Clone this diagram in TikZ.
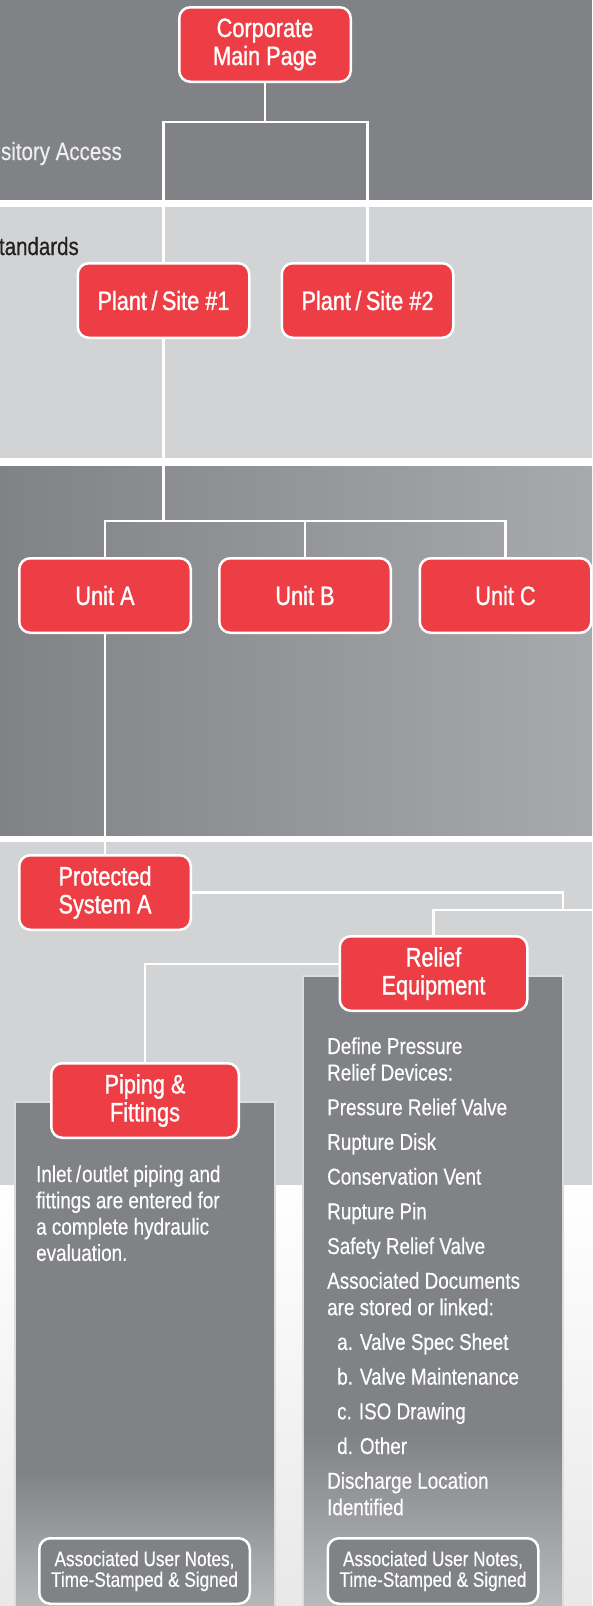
\documentclass[tikz,border=0pt]{standalone}
\usepackage{fontspec}
\setmainfont{Liberation Sans}[FakeStretch=0.82, FakeBold=0.4]
\newfontfamily\titlefam{Liberation Sans}[FakeStretch=0.82, FakeBold=1.1]
\usetikzlibrary{positioning}

\definecolor{boxred}{HTML}{EE3E45}
\definecolor{bandDark}{HTML}{808285}
\definecolor{bandLight}{HTML}{D1D3D4}
\definecolor{bandRight}{HTML}{A7A9AC}
\definecolor{fadeLow}{HTML}{C0C1C3}
\definecolor{floorLow}{HTML}{E8E8E9}
\definecolor{panelEdge}{HTML}{DCDDDE}
\definecolor{inkDark}{HTML}{231F20}
\definecolor{labelLight}{HTML}{EEEEEF}

\newcommand{\titlefont}{\titlefam\fontsize{26.5}{28}\selectfont}
\newcommand{\itemfont}{\fontsize{23}{26.5}\selectfont}
\newcommand{\notefont}{\fontsize{21}{20.7}\selectfont}
\newcommand{\bandfont}{\fontsize{25}{28}\selectfont}

\pgfdeclareverticalshading{panelfade}{100bp}{color(0bp)=(fadeLow); color(25bp)=(fadeLow); color(40bp)=(bandDark); color(100bp)=(bandDark)}

\tikzset{
  redbox/.style={draw=white, line width=2.5pt, fill=boxred, rounded corners=11pt,
    text=white, font=\titlefont, align=center, inner sep=0pt,
    minimum width=171.5pt, minimum height=74.5pt},
  widebox/.style={redbox, minimum width=187.5pt},
  notebox/.style={draw=white, line width=2.5pt, fill=bandDark, rounded corners=11pt,
    text=white, font=\notefont, align=center, inner sep=0pt,
    minimum width=210.5pt, minimum height=65.5pt},
  wire/.style={draw=white, line width=2.5pt},
  item/.style={anchor=base west, inner sep=0pt, text=white, font=\itemfont},
  bandtext/.style={anchor=base east, inner sep=0pt, font=\bandfont},
  panel/.style={shading=panelfade, draw=panelEdge, line width=1.5pt}
}

\begin{document}
\begin{tikzpicture}[x=1pt, y=1pt]

\useasboundingbox (0,0) rectangle (592,-1606);
\clip (0,0) rectangle (592,-1606);
\fill[white] (0,0) rectangle (592,-1606);

% bands
\fill[bandDark] (0,0) rectangle (592,-200);
\fill[bandLight] (0,-207) rectangle (592,-458);
\shade[left color=bandDark, right color=bandRight] (0,-466) rectangle (592,-835);
\fill[bandLight] (0,-842) rectangle (592,-1185);
\shade[top color=white, bottom color=floorLow] (0,-1185) rectangle (592,-1606);

\node[bandtext, text=labelLight] (repo) at (122,-160) {sitory Access};
\node[bandtext, text=inkDark] (stds) at (79,-255) {tandards};

% panels
\shadedraw[panel] (15,-1102) rectangle (275,-1630);
\shadedraw[panel] (303,-976) rectangle (563,-1630);

% boxes
\node[redbox] (corp) at (265,-44.5) {Corporate\\Main Page};
\node[redbox] (site1) at (163.5,-300.5) {Plant\,/\,Site \#1};
\node[redbox, right=30pt of site1] (site2) {Plant\,/\,Site \#2};

\node[redbox] (unitA) at (105,-595.5) {Unit A};
\node[redbox, right=26pt of unitA] (unitB) {Unit B};
\node[redbox, right=26.5pt of unitB] (unitC) {Unit C};

\node[redbox] (protA) at (105,-892.5) {Protected\\System A};
\node[widebox] (relief) at (433.5,-973.5) {Relief\\Equipment};
\node[widebox] (piping) at (145,-1100.5) {Piping \&\\Fittings};

% connectors
\coordinate (fork1) at (265,-122);
\coordinate (fork2) at (304.5,-521);
\coordinate (bend) at (563,-910);
\coordinate (offedge) at (600,-910);

\draw[wire] (corp.south) -- (fork1);
\draw[wire] (site1.north) |- (fork1) -| (site2.north);
\draw[wire] (site1.south) -- (site1.south |- fork2);
\draw[wire] (unitA.north) |- (fork2) -| (unitC.north);
\draw[wire] (unitB.north) -- (unitB.north |- fork2);
\draw[wire] (unitA.south) -- (protA.north);
\draw[wire] (protA.east) -| (bend);
\draw[wire] (relief.north) |- (offedge);
\draw[wire] ([yshift=9.5pt]relief.west) -| (piping.north);

% piping text
\node[item] (pip1) at (36,-1182) {Inlet\hspace{4pt}/\hspace{1pt}outlet piping and};
\node[below=26.3pt of pip1.base west, item] (pip2) {fittings are entered for};
\node[below=26.3pt of pip2.base west, item] (pip3) {a complete hydraulic};
\node[below=26.3pt of pip3.base west, item] (pip4) {evaluation.};

% relief text
\node[item] (rel1) at (327,-1054) {Define Pressure};
\node[below=26.5pt of rel1.base west, item] (rel2) {Relief Devices:};
\node[below=34.7pt of rel2.base west, item] (rel3) {Pressure Relief Valve};
\node[below=34.7pt of rel3.base west, item] (rel4) {Rupture Disk};
\node[below=34.7pt of rel4.base west, item] (rel5) {Conservation Vent};
\node[below=34.7pt of rel5.base west, item] (rel6) {Rupture Pin};
\node[below=34.7pt of rel6.base west, item] (rel7) {Safety Relief Valve};
\node[below=34.7pt of rel7.base west, item] (rel8) {Associated Documents};
\node[below=26.5pt of rel8.base west, item] (rel9) {are stored or linked:};
\node[below=34.7pt of rel9.base west, item, xshift=10pt] (rel10) {a. Valve Spec Sheet};
\node[below=34.7pt of rel10.base west, item] (rel11) {b. Valve Maintenance};
\node[below=34.7pt of rel11.base west, item] (rel12) {c. ISO Drawing};
\node[below=34.7pt of rel12.base west, item] (rel13) {d. Other};
\node[below=34.7pt of rel13.base west, item, xshift=-10pt] (rel14) {Discharge Location};
\node[below=26.5pt of rel14.base west, item] (rel15) {Identified};

% notes
\node[notebox] (note1) at (144.5,-1571) {Associated User Notes,\\Time-Stamped \& Signed};
\node[notebox, right=75.5pt of note1] (note2) {Associated User Notes,\\Time-Stamped \& Signed};

\end{tikzpicture}
\end{document}
